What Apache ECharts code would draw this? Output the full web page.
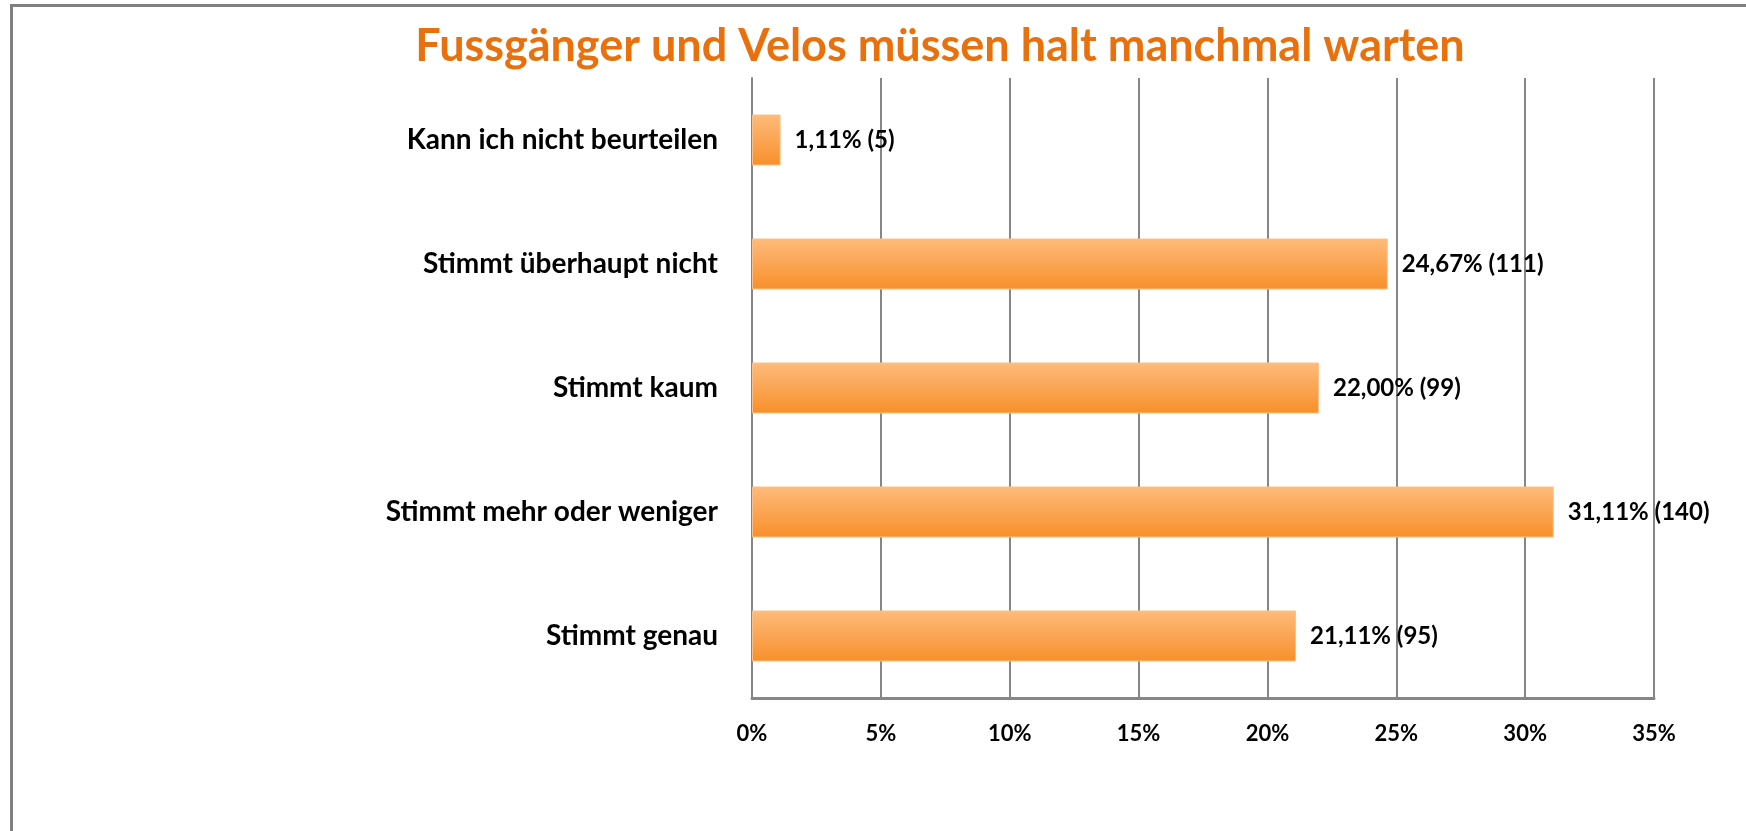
<!DOCTYPE html>
<html>
<head>
<meta charset="utf-8">
<script src="https://cdn.jsdelivr.net/npm/echarts@6/dist/echarts.min.js"></script>
<style>
  html, body { margin: 0; padding: 0; background: #fff; }
  #chart { width: 1746px; height: 831px; }
</style>
</head>
<body>
<div id="chart"></div>
<script>
// Daten (von unten nach oben, wie im Balkendiagramm)
const categories = ['Stimmt genau', 'Stimmt mehr oder weniger', 'Stimmt kaum', 'Stimmt überhaupt nicht', 'Kann ich nicht beurteilen']
const percents = [21.11, 31.11, 22.00, 24.67, 1.11]
const counts = [95, 140, 99, 111, 5]
const tickLabels = ['0%', '5%', '10%', '15%', '20%', '25%', '30%', '35%']

const myChart = echarts.init(document.getElementById('chart'))

const fmt = (v) => v.toFixed(2).replace('.', ',')

myChart.setOption({
  animation: false,
  backgroundColor: '#ffffff',
  title: {
    text: 'Fussgänger und Velos müssen halt manchmal warten',
    left: 935,
    textAlign: 'center',
    top: 19,
    textStyle: {
      color: '#E8710E',
      fontFamily: 'Lato',
      fontWeight: 'bold',
      fontSize: 45
    }
  },
  graphic: [
    {
      type: 'rect',
      shape: { x: 11.5, y: 5.5, width: 1800, height: 900 },
      style: { fill: 'none', stroke: '#808080', lineWidth: 3 },
      silent: true
    }
  ],
  grid: { left: 752, right: 92, top: 78, bottom: 133 },
  xAxis: {
    type: 'value',
    min: 0,
    max: 35,
    interval: 5,
    axisLine: { show: true, lineStyle: { color: '#868686', width: 3 } },
    axisTick: { show: false },
    splitLine: { show: true, lineStyle: { color: '#868686', width: 2 } },
    axisLabel: {
      margin: 25,
      color: '#000',
      fontFamily: 'Lato',
      fontWeight: 'bold',
      fontSize: 22,
      formatter: (v) => tickLabels[Math.round(v / 5)]
    }
  },
  yAxis: {
    type: 'category',
    data: categories,
    axisLine: { show: true, lineStyle: { color: '#868686', width: 2 } },
    axisTick: { show: false },
    axisLabel: {
      margin: 34,
      color: '#000',
      fontFamily: 'Lato',
      fontWeight: 'bold',
      fontSize: 28
    }
  },
  series: [
    {
      type: 'bar',
      data: percents,
      barWidth: 51,
      itemStyle: {
        color: new echarts.graphic.LinearGradient(0, 0, 0, 1, [
          { offset: 0, color: '#FEBB7C' },
          { offset: 1, color: '#F88F2A' }
        ]),
        borderColor: '#FCC08A',
        borderWidth: 1
      },
      label: {
        show: true,
        position: 'right',
        distance: 14,
        color: '#000',
        fontFamily: 'Lato',
        fontWeight: 'bold',
        fontSize: 24,
        formatter: (p) => fmt(percents[p.dataIndex]) + '% (' + counts[p.dataIndex] + ')'
      }
    }
  ]
})
</script>
</body>
</html>
